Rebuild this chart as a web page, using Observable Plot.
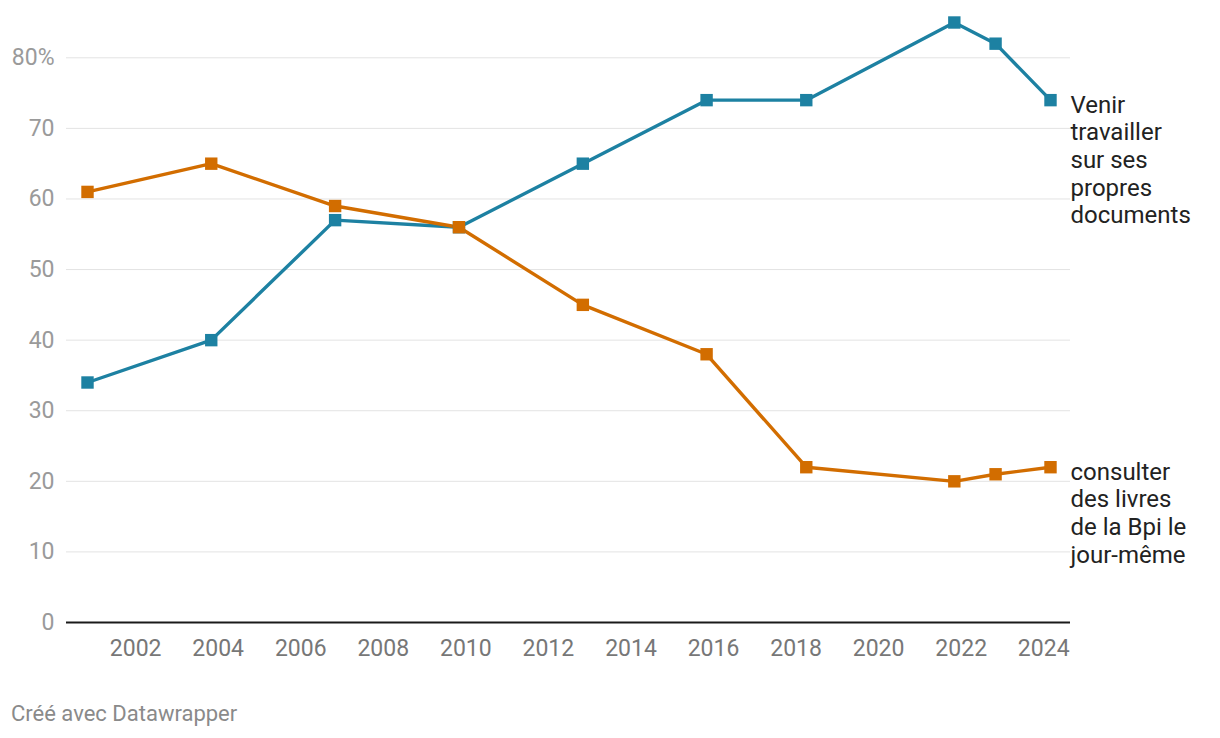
<!DOCTYPE html>
<html>
<head>
<meta charset="utf-8">
<script src="https://cdn.jsdelivr.net/npm/d3@7"></script>
<script src="https://cdn.jsdelivr.net/npm/@observablehq/plot@0.6"></script>
<style>
  body { margin: 0; background: #fff; font-family: Roboto, sans-serif; }
  #chart svg { display: block; }
  .caption { font-family: Roboto, sans-serif; font-size: 22px; color: #8a8a8a; margin: 29px 0 0 11px; line-height: 26px; }
</style>
</head>
<body>
<div id="chart"></div>
<div class="caption">Créé avec Datawrapper</div>
<script>
const dates = ["2000-11-01","2003-11-01","2006-11-01","2009-11-01","2012-11-01","2015-11-01","2018-04-01","2021-11-01","2022-11-01","2024-03-01"];
const travailler = [34, 40, 57, 56, 65, 74, 74, 85, 82, 74];
const consulter = [61, 65, 59, 56, 45, 38, 22, 20, 21, 22];
const seriesNames = ["Venir\ntravailler\nsur ses\npropres\ndocuments", "consulter\ndes livres\nde la Bpi le\njour-même"];
const seriesColors = ["#1d81a2", "#d26d00"];
const yTicks = [10, 20, 30, 40, 50, 60, 70, 80];
const xTickYears = [2002, 2004, 2006, 2008, 2010, 2012, 2014, 2016, 2018, 2020, 2022, 2024];

const parse = d3.utcParse("%Y-%m-%d");
const data = [];
[travailler, consulter].forEach((vals, i) => {
  vals.forEach((v, j) => data.push({date: parse(dates[j]), value: v, series: seriesNames[i]}));
});
const lastPoints = seriesNames.map(s => data.filter(d => d.series === s).at(-1));

const chart = Plot.plot({
  width: 1220,
  height: 672,
  marginLeft: 66,
  marginRight: 150,
  marginTop: 22,
  marginBottom: 50,
  style: {fontFamily: "Roboto, sans-serif", fontSize: "23px", background: "#fff"},
  x: {type: "utc", domain: [parse(dates[0]), parse(dates.at(-1))], insetLeft: 21, insetRight: 20},
  y: {domain: [0, 85]},
  color: {domain: seriesNames, range: seriesColors},
  marks: [
    Plot.ruleY(yTicks, {stroke: "#e3e3e3", strokeWidth: 1}),
    Plot.ruleY([0], {stroke: "#1a1a1a", strokeWidth: 2}),
    Plot.axisY({ticks: [0, ...yTicks], tickSize: 0, tickPadding: 12, label: null,
      tickFormat: d => d === 80 ? "80%" : String(d), fill: "#9a9a9a", fontSize: 23}),
    Plot.axisX({ticks: xTickYears.map(y => new Date(Date.UTC(y, 0, 1))), tickSize: 0, tickPadding: 17,
      label: null, tickFormat: d3.utcFormat("%Y"), fill: "#777", fontSize: 23}),
    Plot.line(data, {x: "date", y: "value", z: "series", stroke: "series", strokeWidth: 3.4}),
    Plot.dot(data, {x: "date", y: "value", fill: "series", symbol: "square", r: 7, stroke: "none"}),
    Plot.text(lastPoints, {x: "date", y: "value", text: "series", textAnchor: "start", lineAnchor: "top",
      dx: 20, dy: -7, fill: "#222", fontSize: 24, lineHeight: 1.15})
  ]
});
document.getElementById("chart").appendChild(chart);
</script>
</body>
</html>
